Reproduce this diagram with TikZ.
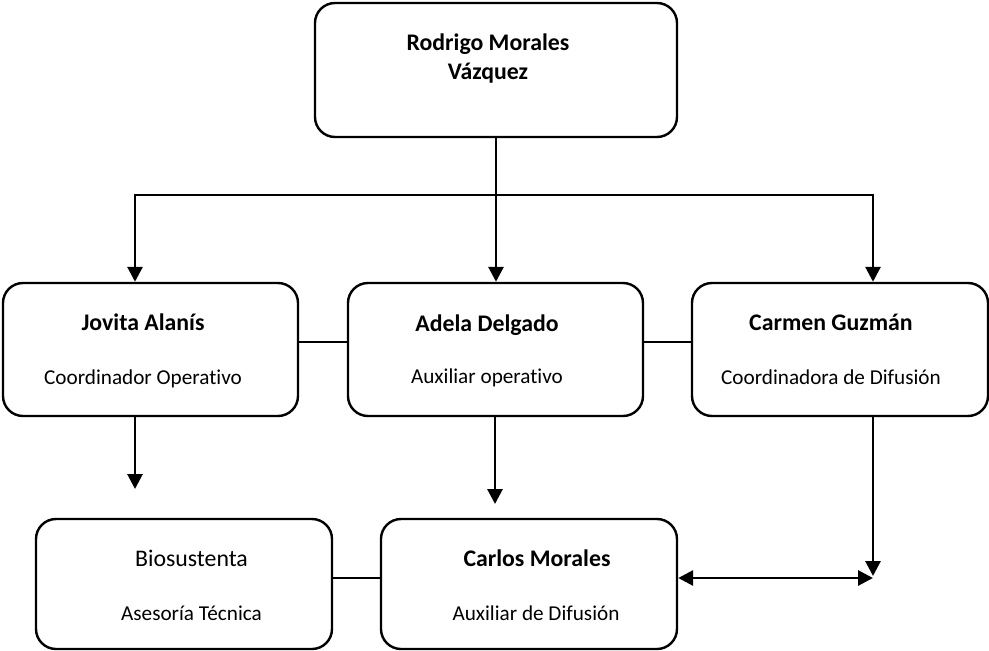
\documentclass[tikz,border=0pt]{standalone}
\usepackage{fontspec}
\setmainfont[Ligatures=NoCommon]{Carlito}
\usetikzlibrary{arrows.meta}
\begin{document}
\begin{tikzpicture}[x=1pt,y=-1pt,
  box/.style={draw, line width=2.4pt, rounded corners=20pt, inner sep=0pt},
  nametext/.style={inner sep=0pt, anchor=base, font=\fontsize{23.8}{28}\selectfont\bfseries},
  bigsub/.style={inner sep=0pt, anchor=base, font=\fontsize{23.8}{28}\selectfont},
  subtext/.style={inner sep=0pt, anchor=base, font=\fontsize{21.2}{25}\selectfont},
  arr/.style={line width=2.9pt, -{Triangle[width=15pt,length=15pt]}},
  darr/.style={line width=2.9pt, {Triangle[width=15pt,length=15pt]}-{Triangle[width=15pt,length=15pt]}},
  link/.style={line width=2pt}]
\useasboundingbox (0,0) rectangle (989,651);
% boxes
\node[box, minimum width=362pt, minimum height=134pt] (top) at (496,70) {};
\node[box, minimum width=295pt, minimum height=133pt] (jov) at (150.5,349.5) {};
\node[box, minimum width=295pt, minimum height=133pt] (ade) at (495.5,349.5) {};
\node[box, minimum width=296pt, minimum height=133pt] (car) at (840,349.5) {};
\node[box, minimum width=296pt, minimum height=130pt] (bio) at (184,584) {};
\node[box, minimum width=296pt, minimum height=130pt] (cmo) at (529,584) {};
% texts
\node[nametext] (t1) at (488,50.5) {Rodrigo Morales};
\node[nametext] (t2) at (488,79) {Vázquez};
\node[nametext] (t3) at (143,330.7) {Jovita Alanís};
\node[subtext] (t4) at (143,384) {Coordinador Operativo};
\node[nametext] (t5) at (487,331) {Adela Delgado};
\node[subtext] (t6) at (487,383.5) {Auxiliar operativo};
\node[nametext] (t7) at (831,330.7) {Carmen Guzmán};
\node[subtext] (t8) at (831,384) {Coordinadora de Difusión};
\node[bigsub] (t9) at (191.5,566) {Biosustenta};
\node[subtext] (t10) at (191.5,620) {Asesoría Técnica};
\node[nametext] (t11) at (537,566) {Carlos Morales};
\node[subtext] (t12) at (536,620) {Auxiliar de Difusión};
% coordinates
\coordinate (j) at (496,195);
\coordinate (jl) at (135,195);
\coordinate (jr) at (873,195);
\coordinate (e1) at (135,489);
\coordinate (e2) at (495,504);
\coordinate (e3) at (873,576);
\coordinate (e4) at (873,578);
% connectors
\draw[line width=2.9pt] (top.south -| j) -- (j);
\draw[line width=2.9pt, line cap=rect] (jl) -- (jr);
\draw[arr] (j) -- (j |- ade.north);
\draw[arr] (jl) -- (jl |- jov.north);
\draw[arr] (jr) -- (jr |- car.north);
\draw[link] (jov.east |- 0,342) -- (ade.west |- 0,342);
\draw[link] (ade.east |- 0,342) -- (car.west |- 0,342);
\draw[arr] (e1 |- jov.south) -- (e1);
\draw[arr] (e2 |- ade.south) -- (e2);
\draw[arr] (e3 |- car.south) -- (e3);
\draw[link] (bio.east |- 0,578) -- (cmo.west |- 0,578);
\draw[darr] (cmo.east |- e4) -- (e4);
\end{tikzpicture}
\end{document}
